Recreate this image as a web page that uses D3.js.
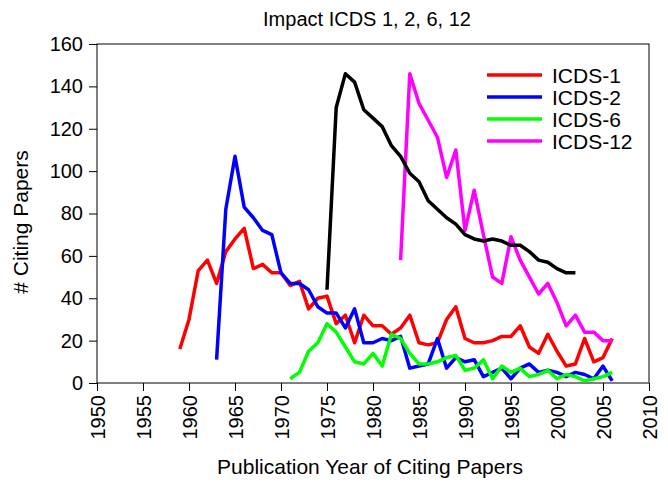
<!DOCTYPE html>
<html><head><meta charset="utf-8">
<script src="https://cdn.jsdelivr.net/npm/d3@7"></script>
<style>body{margin:0;background:#fff}svg{display:block}text{font-family:"Liberation Sans",Arial,sans-serif;fill:#000}</style>
</head><body><svg id="c" width="668" height="483"></svg>
<script>
const title = "Impact ICDS 1, 2, 6, 12";
const xTitle = "Publication Year of Citing Papers";
const yTitle = "# Citing Papers";
const xTicks = [1950,1955,1960,1965,1970,1975,1980,1985,1990,1995,2000,2005,2010];
const yTicks = [0,20,40,60,80,100,120,140,160];

const icds1Years = d3.range(1959, 2007);
const icds1 = [16,30,53,58,47,62,68,73,54,56,52,52,46,48,35,40,41,28,32,19,32,27,27,23,26,32,19,18,19,30,36,21,19,19,20,22,22,27,17,14,23,15,8,9,21,10,12,21];
const icds2Years = d3.range(1963, 2007);
const icds2 = [11,82,107,83,78,72,70,52,47,47,44,36,33,33,26,35,19,19,21,20,22,7,8,9,21,7,12,10,11,3,5,7,2,7,9,5,6,5,3,5,4,2,8,1];
const icds6Years = d3.range(1971, 2007);
const icds6 = [2,5,15,19,28,24,17,10,9,14,8,23,21,14,9,9,10,12,13,6,7,11,2,8,5,7,3,4,6,2,4,3,1,2,3,5];
const icds12Years = d3.range(1983, 2007);
const icds12 = [58,146,132,124,116,97,110,72,91,70,50,47,69,58,50,42,47,38,27,32,24,24,20,20];
const otherYears = d3.range(1975, 2003);
const other = [44,130,146,142,129,125,121,112,107,99,95,86,82,78,75,70,68,67,68,67,65,65,62,58,57,54,52,52];

const seriesNames = ["ICDS-1","ICDS-2","ICDS-6","ICDS-12"];
const colors = ["#ff0000","#0000ff","#00ff00","#ff00ff","#000000"];

const svg = d3.select("#c");
const x = d3.scaleLinear().domain([1950,2010]).range([97,649]);
const y = d3.scaleLinear().domain([0,160]).range([383,44]);

// frame
svg.append("rect").attr("x",97).attr("y",44).attr("width",552).attr("height",339)
  .attr("fill","none").attr("stroke","#000").attr("stroke-width",1);

// y axis
const ya = svg.append("g").attr("transform","translate(97,0)")
  .call(d3.axisLeft(y).tickValues(yTicks).tickSize(8).tickPadding(6));
ya.select(".domain").remove();
ya.selectAll("text").style("font-size","20px").style("font-family","Liberation Sans, Arial, sans-serif");

// x axis
const xa = svg.append("g").attr("transform","translate(0,383)")
  .call(d3.axisBottom(x).tickValues(xTicks).tickFormat(d3.format("d")).tickSize(8));
xa.select(".domain").remove();
xa.selectAll("text").style("font-size","20px").style("font-family","Liberation Sans, Arial, sans-serif")
  .attr("transform","rotate(-90)").attr("text-anchor","end").attr("x",-12).attr("y",0).attr("dy","0.35em");

const line = d3.line().x(d=>x(d[0])).y(d=>y(d[1]));
const all = [[icds1Years,icds1],[icds2Years,icds2],[icds6Years,icds6],[icds12Years,icds12],[otherYears,other]];
all.forEach((s,i)=>{
  svg.append("path").datum(s[0].map((yr,j)=>[yr,s[1][j]]))
    .attr("d",line).attr("fill","none").attr("stroke",colors[i])
    .attr("stroke-width",3.5).attr("stroke-linejoin","round");
});

// legend
seriesNames.forEach((n,i)=>{
  const ly = 75 + i*22;
  svg.append("line").attr("x1",487).attr("x2",542).attr("y1",ly).attr("y2",ly)
    .attr("stroke",colors[i]).attr("stroke-width",3.5);
  svg.append("text").attr("x",552).attr("y",ly).attr("dy","0.36em")
    .style("font-size","21px").text(n);
});

svg.append("text").attr("x",367).attr("y",26).attr("text-anchor","middle").style("font-size","20px").text(title);
svg.append("text").attr("x",370).attr("y",474).attr("text-anchor","middle").style("font-size","21px").text(xTitle);
svg.append("text").attr("transform","translate(28,222) rotate(-90)").attr("text-anchor","middle").style("font-size","21px").text(yTitle);
</script></body></html>
